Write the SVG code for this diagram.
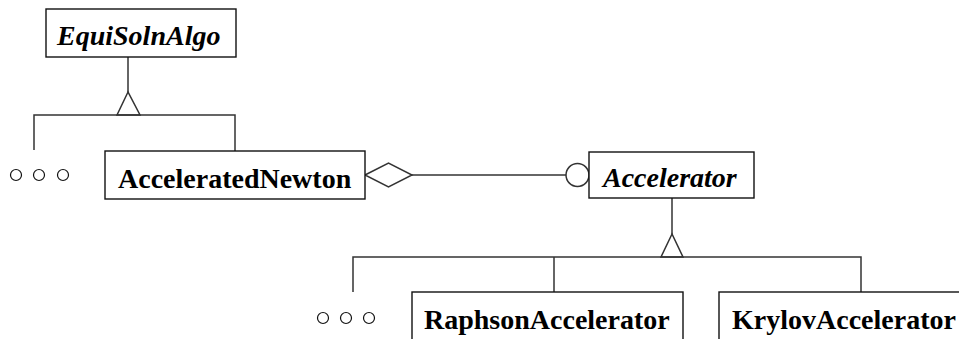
<svg xmlns="http://www.w3.org/2000/svg" width="959" height="339" viewBox="0 0 959 339">
<style>
.box{fill:#fff;stroke:#111;stroke-width:1.4}
.t{font-family:'Liberation Serif','Times New Roman',Times,'DejaVu Serif',serif;font-size:28px;font-weight:bold;fill:#000}
.it{font-style:italic}
.ln{fill:none;stroke:#333;stroke-width:1.5}
.dot{fill:#fff;stroke:#111;stroke-width:1.2}
</style>
<rect width="959" height="339" fill="#fff"/>
<g id="connectors">
<polyline class="ln" points="128,57 128,92"/>
<polygon class="ln" points="128,92 117,115 140,115"/>
<polyline class="ln" points="34,150 34,115 235,115 235,151"/>
<polygon class="ln" points="365,175 388.5,163 412,175 388.5,187"/>
<line class="ln" x1="412" y1="175" x2="566" y2="175"/>
<circle class="ln" cx="577.5" cy="175" r="11.5"/>
<polyline class="ln" points="672,198 672,234"/>
<polygon class="ln" points="672,234 661,257 683,257"/>
<polyline class="ln" points="353,292 353,257 861,257 861,293"/>
<line class="ln" x1="554" y1="257" x2="554" y2="292"/>
</g>
<g id="EquiSolnAlgo">
<rect class="box" x="46" y="9" width="190" height="48"/>
<text class="t it" x="57" y="45" font-family="Liberation Serif">EquiSolnAlgo</text>
</g>
<g id="ellipsis1">
<circle class="dot" cx="16" cy="175" r="5.5"/>
<circle class="dot" cx="39" cy="175" r="5.5"/>
<circle class="dot" cx="63" cy="175" r="5.5"/>
</g>
<g id="AcceleratedNewton">
<rect class="box" x="105" y="151" width="260" height="48"/>
<text class="t" x="118" y="188" font-family="Liberation Serif">AcceleratedNewton</text>
</g>
<g id="Accelerator">
<rect class="box" x="589" y="152" width="165" height="46"/>
<text class="t it" x="603" y="187" font-family="Liberation Serif">Accelerator</text>
</g>
<g id="ellipsis2">
<circle class="dot" cx="323" cy="318" r="5.5"/>
<circle class="dot" cx="346" cy="318" r="5.5"/>
<circle class="dot" cx="369" cy="318" r="5.5"/>
</g>
<g id="RaphsonAccelerator">
<rect class="box" x="412" y="292" width="271" height="60"/>
<text class="t" x="424" y="329" font-family="Liberation Serif">RaphsonAccelerator</text>
</g>
<g id="KrylovAccelerator">
<rect class="box" x="719" y="292" width="250" height="60"/>
<text class="t" x="732" y="329" font-family="Liberation Serif">KrylovAccelerator</text>
</g>
</svg>
